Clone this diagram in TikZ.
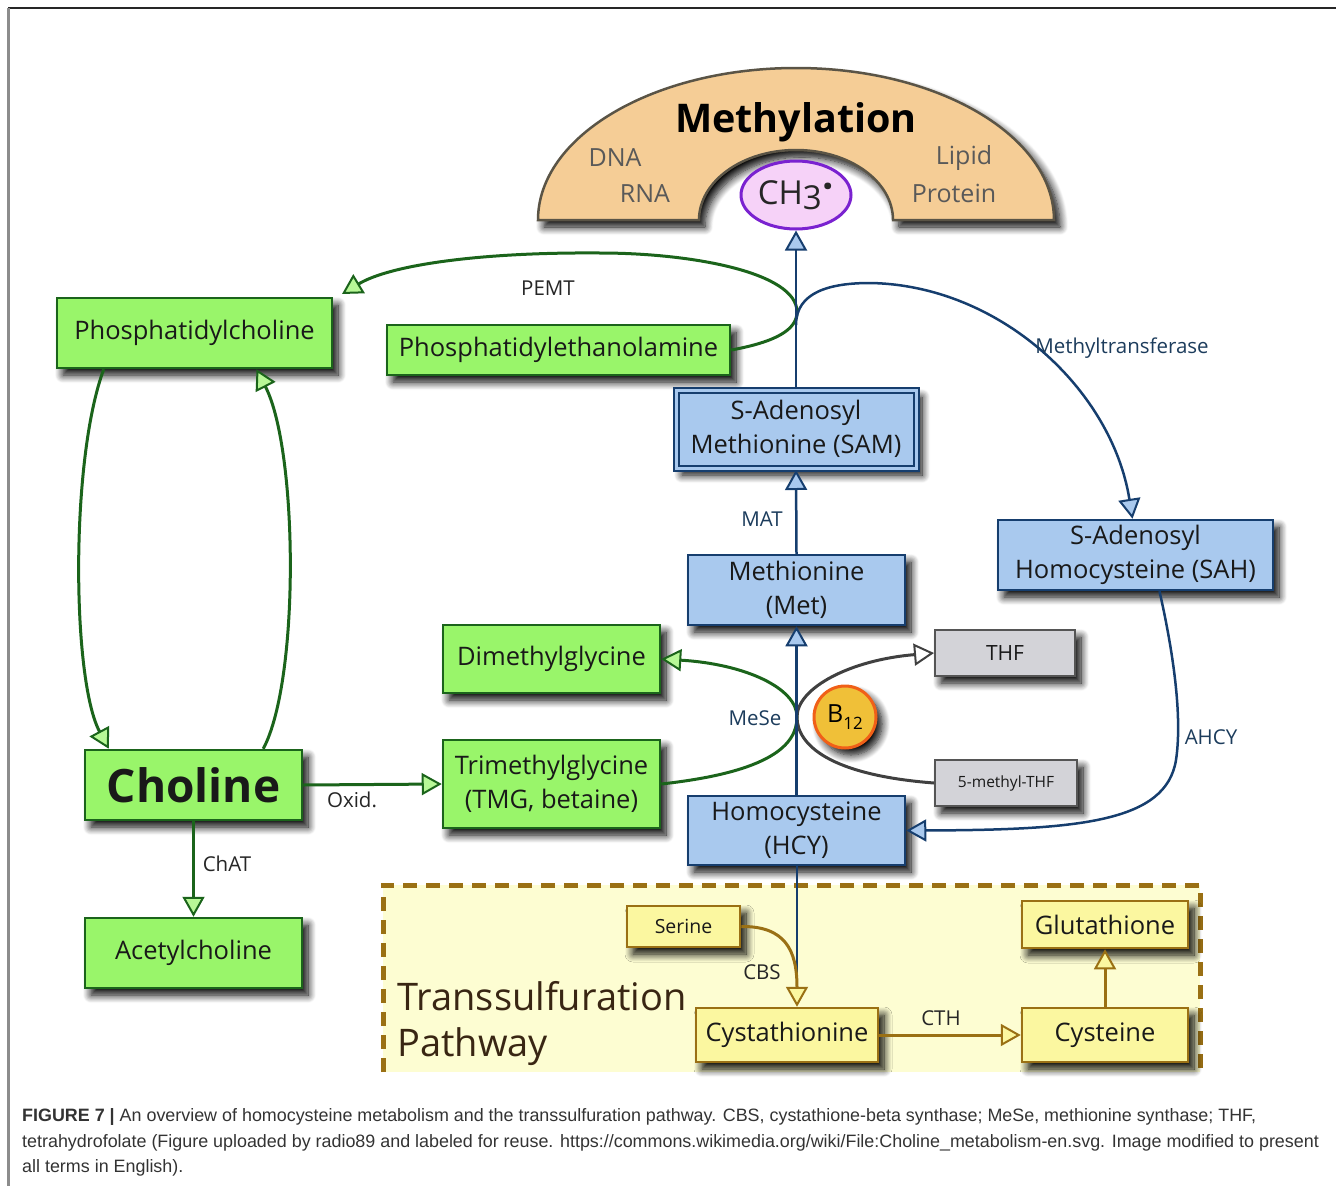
\documentclass[tikz,border=0pt]{standalone}
\usepackage{fontspec}
\setmainfont{Open Sans}
\newfontfamily\capfont{Liberation Sans}
\usetikzlibrary{arrows.meta,shadows.blur,shapes.geometric}

\definecolor{grfill}{HTML}{99F56A}
\definecolor{grline}{HTML}{1B641B}
\definecolor{blfill}{HTML}{A9C9EE}
\definecolor{blline}{HTML}{163E6E}
\definecolor{gyfill}{HTML}{D3D3D8}
\definecolor{gyline}{HTML}{555555}
\definecolor{ylfill}{HTML}{FBF7A0}
\definecolor{ylline}{HTML}{9A7014}
\definecolor{tsfill}{HTML}{FDFDD2}
\definecolor{archfill}{HTML}{F5CD96}
\definecolor{archline}{HTML}{5A5446}
\definecolor{chfill}{HTML}{F6D2F8}
\definecolor{chline}{HTML}{7A22D0}
\definecolor{bfill}{HTML}{F0C038}
\definecolor{bline}{HTML}{F06018}
\definecolor{lbl}{HTML}{1C3C5C}

\tikzset{
  shad/.style={blur shadow={shadow xshift=6pt, shadow yshift=-7pt, shadow blur radius=8pt, shadow blur steps=10, shadow opacity=100}},
  box/.style={draw, line width=2.5pt, inner sep=0pt, align=center, text=black!90,
    font=\fontsize{25.5}{34}\selectfont, shad},
  grbox/.style={box, draw=grline, fill=grfill},
  blbox/.style={box, draw=blline, fill=blfill},
  gybox/.style={box, draw=gyline, fill=gyfill, line width=2pt, font=\fontsize{21}{24}\selectfont},
  ylbox/.style={box, draw=ylline, fill=ylfill},
  lab/.style={font=\fontsize{20.5}{24}\selectfont},
  grarr/.style={draw=grline, line width=3pt, -{Triangle[length=20pt, width=22pt, fill=grfill!70, line width=2pt]}},
  blarr/.style={draw=blline, line width=2.5pt, -{Triangle[length=20pt, width=22pt, fill=blfill, line width=2pt]}},
  gyarr/.style={draw=black!75, line width=3pt, -{Triangle[length=20pt, width=22pt, fill=white, line width=2pt]}},
  ylarr/.style={draw=ylline, line width=3pt, -{Triangle[length=20pt, width=22pt, fill=ylfill, line width=2pt]}}
}

\begin{document}
\begin{tikzpicture}[x=1pt, y=-1pt]
\useasboundingbox (0,0) rectangle (1336,1186);
\draw[black!85, line width=2pt] (8,8) -- (1336,8);
\draw[black!45, line width=3pt] (8,8) -- (8,1186);

% methylation arch
\draw[fill=archfill, draw=archline, line width=2.5pt, shad] (538,220) arc[start angle=180, end angle=0, x radius=258pt, y radius=152pt]
  -- (893,220) arc[start angle=0, end angle=180, x radius=97pt, y radius=70pt] -- cycle;
\node (meth) at (796,122) {\fontsize{39.5}{42}\selectfont\bfseries Methylation};
\node[text=black!65, font=\fontsize{25}{28}\selectfont] (dna) at (615,158) {DNA};
\node[text=black!65, font=\fontsize{25}{28}\selectfont] (rna) at (645,194) {RNA};
\node[text=black!65, font=\fontsize{25}{28}\selectfont] (lipid) at (964,158) {Lipid};
\node[text=black!65, font=\fontsize{25}{28}\selectfont] (protein) at (954,193) {Protein};
\node[ellipse, draw=chline, fill=chfill, line width=3pt, minimum width=110, minimum height=68, inner sep=0pt,
  font=\fontsize{33}{36}\selectfont, text=black!85] (ch3) at (796,195) {CH\raisebox{-0.15em}{3}\kern1pt\raisebox{0.12em}{\fontsize{40}{40}\selectfont\textbf{·}}};

% transsulfuration area
\fill[tsfill] (383,885) rectangle (1200,1072);
\draw[ylline, line width=5pt, dash pattern=on 14pt off 9pt] (383,1072) -- (383,885) -- (1200,885) -- (1200,1072);
\node[anchor=west, align=left, text=black!70!brown, font=\fontsize{38}{46}\selectfont] (tsp) at (394,1024) {Transsulfuration\\Pathway};

% boxes
\node[grbox, minimum width=275, minimum height=70] (pc) at (194.5,333) {Phosphatidylcholine};
\node[grbox, minimum width=343, minimum height=50] (pe) at (558.5,350) {Phosphatidylethanolamine};
\node[blbox, minimum width=240, minimum height=78, double=blfill, double distance=3pt, line width=2pt] (sam) at (796,429) {S-Adenosyl\\Methionine (SAM)};
\node[blbox, minimum width=217, minimum height=70] (met) at (796.5,590) {Methionine\\(Met)};
\node[blbox, minimum width=275, minimum height=70] (sah) at (1135.5,555) {S-Adenosyl\\Homocysteine (SAH)};
\node[grbox, minimum width=217, minimum height=68] (dmg) at (551.5,659) {Dimethylglycine};
\node[grbox, minimum width=217, minimum height=88] (tmg) at (551.5,784) {Trimethylglycine\\(TMG, betaine)};
\node[grbox, minimum width=217, minimum height=70, font=\fontsize{46}{50}\selectfont\bfseries] (chol) at (193.5,785) {Choline};
\node[grbox, minimum width=217, minimum height=70] (ach) at (193.5,953) {Acetylcholine};
\node[blbox, minimum width=217, minimum height=69] (hcy) at (796.5,830.5) {Homocysteine\\(HCY)};
\node[gybox, minimum width=140, minimum height=46] (thf) at (1005,653) {THF};
\node[gybox, minimum width=142, minimum height=46, font=\fontsize{15.5}{18}\selectfont] (mthf) at (1006,783) {5-methyl-THF};
\node[circle, draw=bline, fill=bfill, line width=3pt, minimum size=62, inner sep=0pt, shad,
  font=\fontsize{25}{28}\selectfont] (b12) at (845,717) {B\raisebox{-0.3em}{\fontsize{17}{18}\selectfont 12}};
\node[ylbox, minimum width=113, minimum height=41, font=\fontsize{19.5}{22}\selectfont] (ser) at (683.5,926.5) {Serine};
\node[ylbox, minimum width=166, minimum height=47] (glu) at (1105,924.5) {Glutathione};
\node[ylbox, minimum width=182, minimum height=54] (cysta) at (787,1035) {Cystathionine};
\node[ylbox, minimum width=166, minimum height=54] (cys) at (1105,1035) {Cysteine};

\coordinate (pctip) at (342,294);
\coordinate (samtop) at (796,325);
\coordinate (cbsjoin) at (796.5,982);

% connectors
\draw[grarr] (pe.east) .. controls (775,342) and (797,330) .. (797,312) .. controls (797,272) and (690,253) .. (600,253) .. controls (480,252) and (390,265) .. (pctip);
\draw[grarr] (pc.south west) ++(48,0) .. controls (70,460) and (72,680) .. ([xshift=25]chol.north west);
\draw[grarr] ([xshift=-40]chol.north east) .. controls (300,680) and (298,450) .. ([xshift=62]pc.south);
\draw[grarr] (chol.east) -- (tmg.west);
\draw[grarr] (chol.south) -- (ach.north);
\draw[grarr] (tmg.east) .. controls (770,772) and (797,745) .. (797,717) .. controls (797,688) and (745,664) .. (dmg.east);
\draw[gyarr] (mthf.west) .. controls (830,775) and (797,745) .. (797,717) .. controls (797,688) and (850,660) .. (thf.west);
\draw[blarr] (hcy.north) -- (met.south);
\draw[blarr] (met.north) -- ([yshift=-1]sam.south);
\draw[blarr] (sam.north) -- (ch3.south);
\draw[blarr] (samtop) .. controls (796,292) and (830,283) .. (870,283) .. controls (1000,285) and (1112,390) .. ([xshift=-3]sah.north);
\draw[blarr] ([xshift=24]sah.south) .. controls (1175,660) and (1182,720) .. (1176,760) .. controls (1166,822) and (1080,830) .. (hcy.east);
\draw[blline, line width=2pt] (hcy.south) -- (cbsjoin);
\draw[ylarr] (ser.east) .. controls (785,926) and (797,950) .. ([xshift=10]cysta.north);
\draw[ylarr] (cysta.east) -- (cys.west);
\draw[ylarr] (cys.north) -- (glu.south);

% labels
\node[lab, text=black!85] (pemt) at (548,288) {PEMT};
\node[lab, text=lbl] (mtr) at (1122,348) {Methyltransferase};
\node[lab, text=lbl] (mat) at (762,519) {MAT};
\node[lab, text=lbl] (mese) at (755,718) {MeSe};
\node[lab, text=lbl] (ahcy) at (1211,737) {AHCY};
\node[lab, text=black!85] (oxid) at (352,800) {Oxid.};
\node[lab, text=black!85] (chat) at (227,864) {ChAT};
\node[lab, text=black!85] (cbs) at (762,972) {CBS};
\node[lab, text=black!85] (cth) at (941,1018) {CTH};

% caption
\node[anchor=west, inner sep=0pt, text=black!80, font=\capfont\fontsize{17.9}{20}\selectfont] (cap1) at (22,1117)
  {\textbf{FIGURE 7 |} An overview of homocysteine metabolism and the transsulfuration pathway. CBS, cystathione-beta synthase; MeSe, methionine synthase; THF,};
\node[anchor=west, inner sep=0pt, text=black!80, font=\capfont\fontsize{17.9}{20}\selectfont] (cap2) at (22,1143)
  {tetrahydrofolate (Figure uploaded by radio89 and labeled for reuse. https://commons.wikimedia.org/wiki/File:Choline\_metabolism-en.svg. Image modified to present};
\node[anchor=west, inner sep=0pt, text=black!80, font=\capfont\fontsize{17.9}{20}\selectfont] (cap3) at (22,1168)
  {all terms in English).};
\end{tikzpicture}
\end{document}
